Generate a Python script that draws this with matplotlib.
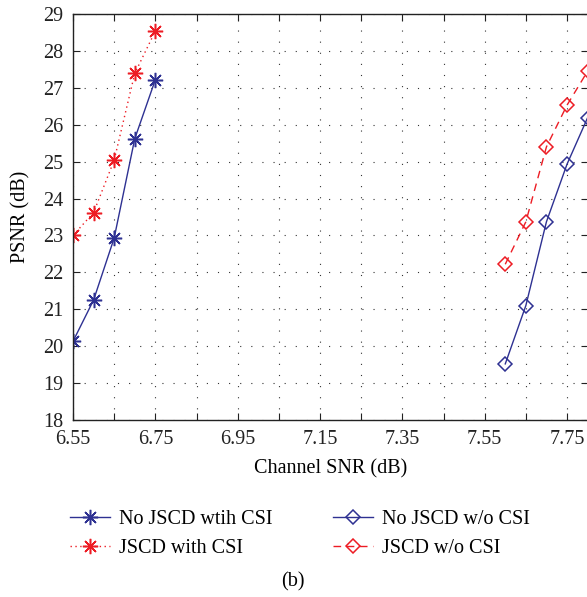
import numpy as np
import matplotlib
matplotlib.use('Agg')
from matplotlib import pyplot as plt

# donnees
snr_csi = [6.55, 6.60, 6.65, 6.70, 6.75]
snr_nocsi = [7.60, 7.65, 7.70, 7.75, 7.80]
psnr_nojscd_csi = [20.13, 21.25, 22.93, 25.62, 27.22]
psnr_jscd_csi = [23.0, 23.62, 25.04, 27.39, 28.54]
psnr_nojscd_nocsi = [19.52, 21.10, 23.37, 24.93, 26.19]
psnr_jscd_nocsi = [22.22, 23.37, 25.40, 26.53, 27.45]

xticks = [6.55, 6.65, 6.75, 6.85, 6.95, 7.05, 7.15, 7.25, 7.35, 7.45, 7.55, 7.65, 7.75]
xlabels = ['6.55', '', '6.75', '', '6.95', '', '7.15', '', '7.35', '', '7.55', '', '7.75']
yticks = list(range(18, 30))

blue = '#2e3192'
red = '#ed1c24'
fs = 14.5

plt.rcParams['font.family'] = ['Liberation Serif', 'DejaVu Serif']
plt.rcParams['font.size'] = fs

fig = plt.figure(figsize=(5.87, 5.97), dpi=100)
ax = fig.add_axes([73/587, 1-420/597, 514.6/587, 406/597])

star = (8, 2, 0)
ax.plot(snr_csi, psnr_nojscd_csi, color=blue, lw=1.0, ls='-',
        marker=star, ms=11, mew=1.1, label='No JSCD wtih CSI')
ax.plot(snr_csi, psnr_jscd_csi, color=red, lw=1.0, ls=(0, (1, 2.5)),
        marker=star, ms=11, mew=1.1, label='JSCD with CSI')
ax.plot(snr_nocsi, psnr_nojscd_nocsi, color=blue, lw=1.0, ls='-',
        marker='D', ms=7.3, mfc='none', mew=1.1, label='No JSCD w/o CSI')
ax.plot(snr_nocsi, psnr_jscd_nocsi, color=red, lw=1.0, ls=(0, (5.5, 4)),
        marker='D', ms=7.3, mfc='none', mew=1.1, label='JSCD w/o CSI')

ax.set_xlim(6.55, 7.80)
ax.set_ylim(18, 29)
ax.set_xticks(xticks)
ax.set_xticklabels(xlabels)
ax.set_yticks(yticks)
ax.tick_params(direction='in', top=True, right=True, length=5, width=0.8,
               labelsize=fs, colors='#222222')
ax.tick_params(axis='y', pad=7)
ax.tick_params(axis='x', pad=7.5)
ax.grid(True, color='#333333', ls=(0, (1, 9)), lw=0.8)
for s in ax.spines.values():
    s.set_linewidth(1.0)
    s.set_color('#222222')

ax.set_xlabel('Channel SNR (dB)', fontsize=fs, labelpad=7)
ax.set_ylabel('PSNR (dB)', fontsize=fs, labelpad=9)

fig.legend(loc='center', bbox_to_anchor=(300/587, 1-534/597), ncol=2,
           frameon=False, handlelength=2.0, handletextpad=0.45,
           columnspacing=3.0, labelspacing=0.45, fontsize=fs)
fig.text(293/587, 1-582/597, '(b)', ha='center', va='center', fontsize=fs)

fig.savefig('out.png', dpi=100)
